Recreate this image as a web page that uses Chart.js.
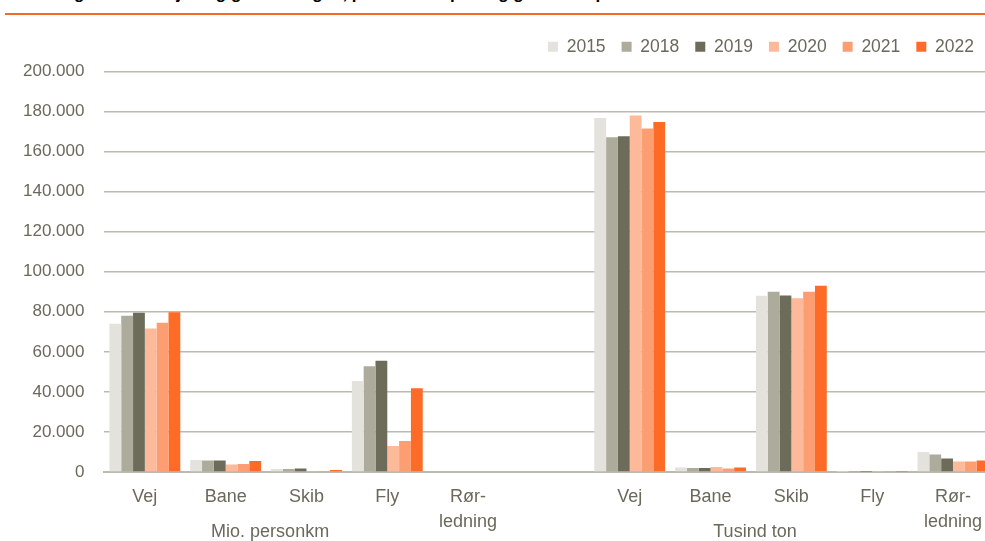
<!DOCTYPE html>
<html>
<head>
<meta charset="utf-8">
<script src="https://cdn.jsdelivr.net/npm/chart.js@4"></script>
<style>
  html, body { margin: 0; padding: 0; background: #fff; overflow: hidden; width: 985px; height: 541px; }
  .title {
    position: absolute; left: 8px; top: -16px; white-space: nowrap;
    font: bold 17px "Liberation Sans", Arial, sans-serif; color: #000;
  }
  .rule { position: absolute; left: 5px; top: 13px; width: 990px; height: 2px; background: #f4692a; }
  .wrap { position: absolute; left: 0; top: 0; }
</style>
</head>
<body>
<div class="title">Udvikling i trafikarbejde og godsmængde, persontransport og godstransport</div>
<div class="rule"></div>
<div class="wrap"><canvas id="chart" width="995" height="541"></canvas></div>
<script>
// categories (empty slot separates persons / goods)
const categories = ['Vej', 'Bane', 'Skib', 'Fly', ['Rør-', 'ledning'], '', 'Vej', 'Bane', 'Skib', 'Fly', ['Rør-', 'ledning']];
const years = ['2015', '2018', '2019', '2020', '2021', '2022'];
const groups = ['Mio. personkm', 'Tusind ton'];
const groupStart = [0, 6];

const v2015 = [74000, 6000, 1500, 45500, 0, null, 176800, 2200, 88000, 150, 10000];
const v2018 = [78000, 5700, 1500, 52800, 0, null, 167200, 2000, 90000, 150, 8800];
const v2019 = [79500, 5800, 1800, 55500, 0, null, 167700, 2000, 88200, 150, 6700];
const v2020 = [71700, 3700, 500, 13000, 0, null, 178000, 2500, 86800, 150, 5300];
const v2021 = [74500, 4000, 500, 15500, 0, null, 171500, 1700, 90000, 150, 5300];
const v2022 = [79800, 5500, 1000, 41800, 0, null, 174800, 2200, 93000, 150, 5700];

const colors = ['#e3e2dc', '#adab9b', '#6d6c5a', '#fdba9b', '#fc9e72', '#fe6b26'];
const series = [v2015, v2018, v2019, v2020, v2021, v2022];

const textColor = '#6b695b';
const gridColor = '#bcbab0';
const font = '"Liberation Sans", Arial, sans-serif';

function fmt(v) {
    return String(v).replace(/\B(?=(\d{3})+(?!\d))/g, '.');
}

// second-level category labels under the x axis
const groupLabels = {
    id: 'groupLabels',
    afterDraw(chart) {
        const ctx = chart.ctx;
        const x = chart.scales.x;
        ctx.save();
        ctx.font = '18px ' + font;
        ctx.fillStyle = textColor;
        ctx.textAlign = 'center';
        ctx.textBaseline = 'middle';
        groups.forEach((g, i) => {
            ctx.fillText(g, x.getPixelForValue(groupStart[i] + 1.55), chart.chartArea.bottom + 60);
        });
        ctx.restore();
    }
};

// legend height / offset tweaks so plot starts where the original does
const legendFit = {
    id: 'legendFit',
    beforeInit(chart) {
        const fit = chart.legend.fit;
        chart.legend.fit = function () {
            fit.call(this);
            this.height += 6;
            if (this.lineWidths) this.lineWidths[0] += 5;
        };
    }
};

new Chart(document.getElementById('chart'), {
    type: 'bar',
    data: {
        labels: categories,
        datasets: years.map((y, i) => ({
            label: y,
            data: series[i],
            backgroundColor: colors[i],
            borderWidth: 0,
            barPercentage: 1,
            categoryPercentage: 0.877
        }))
    },
    plugins: [groupLabels, legendFit],
    options: {
        responsive: false,
        animation: false,
        layout: { padding: { left: 3, top: 22, bottom: 0, right: 0 } },
        plugins: {
            tooltip: { enabled: false },
            legend: {
                position: 'top',
                align: 'end',
                labels: {
                    boxWidth: 10, boxHeight: 10, padding: 16,
                    color: textColor,
                    font: { family: font, size: 17.5 }
                }
            }
        },
        scales: {
            x: {
                grid: { display: false, drawTicks: false },
                border: { display: true, color: gridColor, width: 2 },
                ticks: {
                    autoSkip: false, maxRotation: 0, padding: 13,
                    color: textColor,
                    font: { family: font, size: 18, lineHeight: 1.39 }
                },
                afterFit(scale) { scale.height = 69; }
            },
            y: {
                min: 0, max: 200000,
                grid: { color: gridColor, lineWidth: 1.5, drawTicks: false },
                border: { display: false },
                ticks: {
                    stepSize: 20000, padding: 20,
                    color: textColor,
                    font: { family: font, size: 17 },
                    callback: v => fmt(v)
                }
            }
        }
    }
});
</script>
</body>
</html>
